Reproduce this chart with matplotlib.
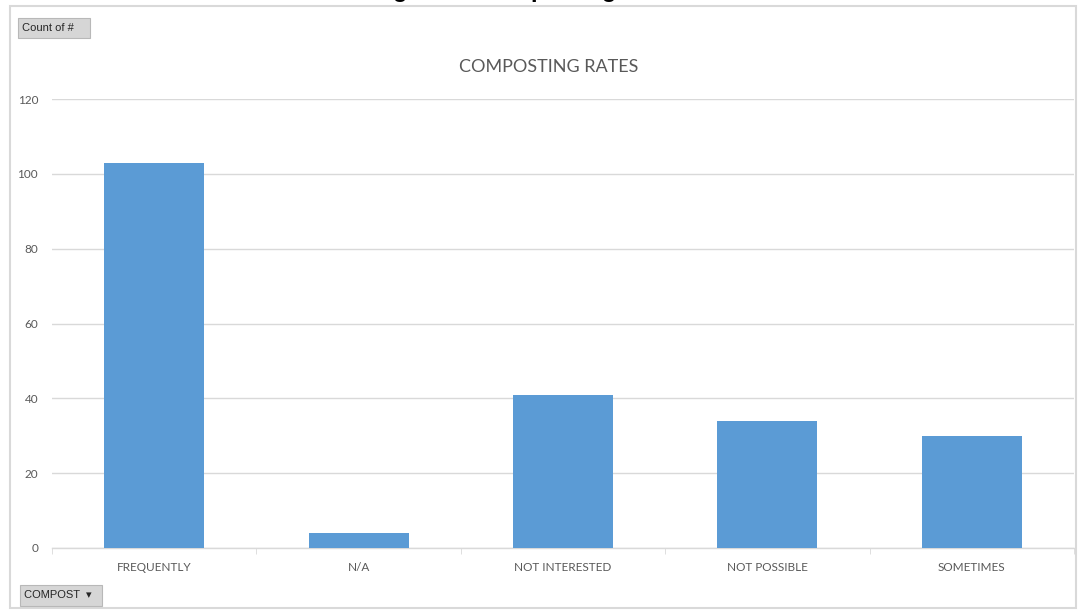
import matplotlib.pyplot as plt
import numpy as np
from matplotlib.patches import FancyBboxPatch, Rectangle

plt.rcParams['font.family'] = ['Lato', 'DejaVu Sans']

# Survey counts per answer
categories = ['FREQUENTLY', 'N/A', 'NOT INTERESTED', 'NOT POSSIBLE', 'SOMETIMES']
counts = [103, 4, 41, 34, 30]
y_ticks = [0, 20, 40, 60, 80, 100, 120]

fig = plt.figure(figsize=(10.81, 6.12), dpi=100)
fig.patch.set_facecolor('white')

# outer frame of the pivot chart
fig.patches.append(Rectangle((10 / 1081, 4 / 612), 1066 / 1081, 602 / 612,
                             transform=fig.transFigure, fill=False,
                             edgecolor='#d9d9d9', linewidth=1.5))

# heading above the chart, mostly cut off by the page edge
fig.text(0.49, 1.0 + 3 / 612, 'Figure 8: Composting Rates', ha='center',
         va='baseline', fontsize=17, fontweight='bold', color='black',
         family=['Liberation Sans', 'DejaVu Sans'])

ax = fig.add_axes([52 / 1081, 1 - 548 / 612, 1022 / 1081, 449 / 612])
x = np.arange(len(categories))
ax.bar(x, counts, width=0.49, color='#5b9bd5', zorder=3)

ax.set_xlim(-0.5, len(categories) - 0.5)
ax.set_ylim(0, 120)
ax.set_yticks(y_ticks)
ax.set_yticklabels([str(v) for v in y_ticks], color='#595959', fontsize=8.5)
ax.set_xticks(x)
ax.set_xticklabels(categories, color='#595959', fontsize=8.5)
ax.set_xticks(np.arange(len(categories) + 1) - 0.5, minor=True)
ax.tick_params(axis='x', which='major', length=0, pad=10)
ax.tick_params(axis='x', which='minor', length=4, color='#d9d9d9')
ax.tick_params(axis='y', length=0, pad=10)
ax.grid(axis='y', color='#d9d9d9', linewidth=1, zorder=0)
for side in ['top', 'right', 'left']:
    ax.spines[side].set_visible(False)
ax.spines['bottom'].set_color('#d9d9d9')
ax.spines['bottom'].set_linewidth(1)

fig.text(549 / 1081, 1 - 67 / 612, 'COMPOSTING RATES', ha='center', va='center',
         fontsize=13, color='#595959')

# field buttons of the pivot chart
def field_button(x0, y0, w, h, label):
    box = FancyBboxPatch((x0 / 1081, 1 - (y0 + h) / 612), w / 1081, h / 612,
                         boxstyle='square,pad=0', transform=fig.transFigure,
                         facecolor='#d6d6d6', edgecolor='#b8b8b8', linewidth=0.8)
    fig.patches.append(box)
    fig.text((x0 + 4) / 1081, 1 - (y0 + h / 2) / 612, label, ha='left',
             va='center', fontsize=8, color='#262626',
             family=['Liberation Sans Narrow', 'Liberation Sans', 'DejaVu Sans'])

field_button(18, 18, 72, 20, 'Count of #')
field_button(20, 585, 82, 21, 'COMPOST  \u25be')

plt.savefig('out.png', dpi=100)
